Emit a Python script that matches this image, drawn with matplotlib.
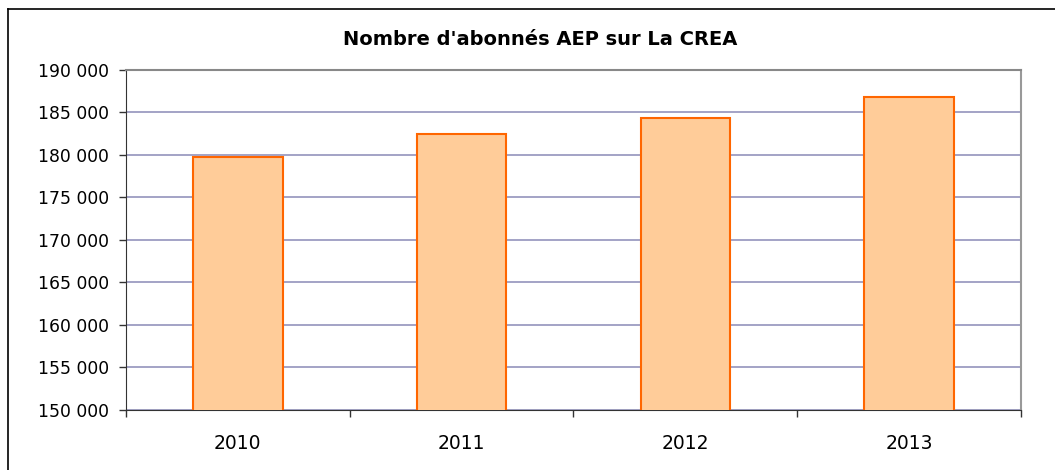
import numpy as np
import matplotlib.pyplot as plt
from matplotlib.lines import Line2D

annees = ['2010', '2011', '2012', '2013']
abonnes = [179800, 182500, 184350, 186800]
yticks = np.arange(150000, 190001, 5000)
ytick_labels = ['{:,}'.format(v).replace(',', ' ') for v in yticks]

plt.rcParams['font.family'] = ['DejaVu Sans']

fig = plt.figure(figsize=(10.55, 4.70), dpi=100)
ax = fig.add_axes([0.1194, 0.1277, 0.8484, 0.7234])

x = np.arange(len(annees))
ax.bar(x, abonnes, width=0.4, color='#FFCC99', edgecolor='#FF6600', linewidth=1.5, zorder=3)

ax.set_xlim(-0.5, len(annees) - 0.5)
ax.set_ylim(150000, 190000)
ax.set_yticks(yticks)
ax.set_yticklabels(ytick_labels, fontsize=12.4)
ax.set_xticks(x)
ax.set_xticklabels(annees, fontsize=13.5)
ax.set_xticks(np.arange(-0.5, len(annees), 1), minor=True)
ax.tick_params(axis='x', which='major', length=0, pad=17)
ax.tick_params(axis='x', which='minor', length=5, width=1, color='#333333', direction='out')
ax.tick_params(axis='y', length=5, width=1, color='#333333', pad=7)

ax.grid(axis='y', color='#9494BC', linewidth=1.2, zorder=0)
ax.spines['left'].set_color('#333333')
ax.spines['bottom'].set_color('#333333')
ax.spines['top'].set_color('#888888')
ax.spines['right'].set_color('#999999')
ax.spines['top'].set_linewidth(1.5)
ax.spines['right'].set_linewidth(1.5)

fig.text(0.512, 0.917, "Nombre d'abonnés AEP sur La CREA", ha='center', va='center',
         fontsize=14, fontweight='bold')

# cadre du graphique (haut et gauche seulement visibles)
fig.add_artist(Line2D([8 / 1055, 1.0], [1 - 9 / 470, 1 - 9 / 470], color='black', linewidth=1.2))
fig.add_artist(Line2D([8 / 1055, 8 / 1055], [0.0, 1 - 9 / 470], color='black', linewidth=1.2))

fig.savefig('out.png', dpi=100)
